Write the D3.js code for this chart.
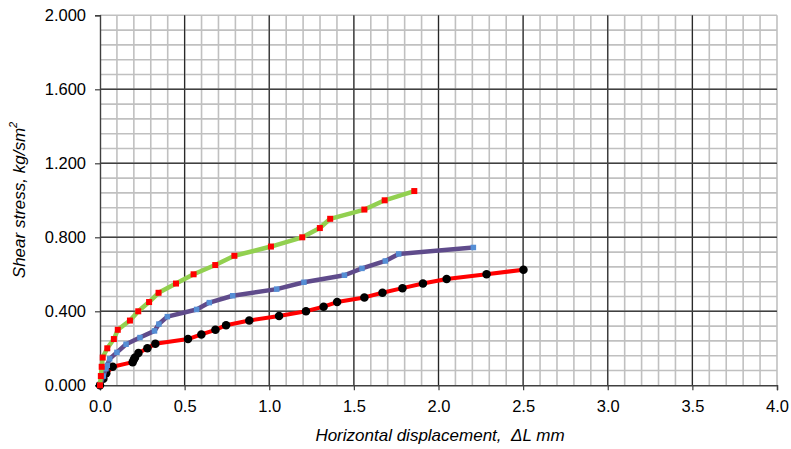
<!DOCTYPE html>
<html lang="en">
<head>
    <meta charset="utf-8">
    <title>Shear stress vs horizontal displacement</title>
    <script src="https://cdn.jsdelivr.net/npm/d3@7"></script>
    <style type="text/css">
        body
        {
            margin: 0;
            background-color: white;
        }
        svg
        {
            display: block;
            font-family: Arial, "Liberation Sans", sans-serif;
        }
        .tick_label
        {
            font-size: 16.5px;
            fill: #000;
        }
        .axis_title
        {
            font-size: 17px;
            font-style: italic;
            white-space: pre;
        }
    </style>
</head>
<body>
    <div id="chart_div"></div>
    <script>
    "use strict";

    // series 1: green line, red square markers
    var s1_x = [0, 0.005, 0.01, 0.016, 0.043, 0.082, 0.105, 0.177, 0.226, 0.29, 0.346, 0.449, 0.553, 0.681, 0.794, 1.01, 1.195, 1.299, 1.36, 1.562, 1.682, 1.857];
    var s1_y = [0, 0.05, 0.1, 0.15, 0.2, 0.25, 0.3, 0.35, 0.4, 0.45, 0.5, 0.55, 0.6, 0.65, 0.7, 0.75, 0.8, 0.85, 0.9, 0.95, 1.0, 1.05];

    // series 2: purple line, blue square markers
    var s2_x = [0, 0.02, 0.035, 0.043, 0.057, 0.1, 0.154, 0.236, 0.322, 0.348, 0.398, 0.571, 0.646, 0.784, 1.044, 1.205, 1.444, 1.548, 1.686, 1.765, 2.206];
    var s2_y = [0, 0.05, 0.09, 0.108, 0.143, 0.178, 0.222, 0.258, 0.294, 0.331, 0.371, 0.41, 0.447, 0.484, 0.52, 0.557, 0.595, 0.632, 0.672, 0.71, 0.745];

    // series 3: red line, black circle markers
    var s3_x = [0, 0.02, 0.037, 0.075, 0.193, 0.2, 0.207, 0.227, 0.28, 0.327, 0.52, 0.599, 0.682, 0.745, 0.882, 1.058, 1.217, 1.321, 1.401, 1.562, 1.669, 1.787, 1.908, 2.048, 2.284, 2.502];
    var s3_y = [0, 0.035, 0.065, 0.1, 0.125, 0.14, 0.15, 0.175, 0.2, 0.225, 0.25, 0.275, 0.3, 0.325, 0.35, 0.375, 0.4, 0.425, 0.45, 0.475, 0.5, 0.525, 0.55, 0.575, 0.6, 0.625];

    var x_ticks = [0, 0.5, 1.0, 1.5, 2.0, 2.5, 3.0, 3.5, 4.0];
    var y_ticks = [0, 0.4, 0.8, 1.2, 1.6, 2.0];

    var svg_width = 791;
    var svg_height = 449;

    var x = d3.scaleLinear().domain([0, 4]).range([100, 777]);
    var y = d3.scaleLinear().domain([0, 2]).range([385.3, 15.3]);

    var svg = d3.select("#chart_div")
        .append("svg")
        .attr("width", svg_width)
        .attr("height", svg_height);

    // minor grid
    var grid = svg.append("g").attr("id", "grid");
    grid.selectAll("line.vminor")
        .data(d3.range(1, 41).map(function(i) { return i / 10; }))
        .enter()
        .append("line")
        .attr("class", "vminor")
        .attr("x1", function(d) { return x(d); })
        .attr("x2", function(d) { return x(d); })
        .attr("y1", y(0))
        .attr("y2", y(2))
        .attr("stroke", "#c0c0c0")
        .attr("stroke-width", 1.6);
    grid.selectAll("line.hminor")
        .data(d3.range(1, 26).map(function(i) { return i * 0.08; }))
        .enter()
        .append("line")
        .attr("class", "hminor")
        .attr("x1", x(0))
        .attr("x2", x(4))
        .attr("y1", function(d) { return y(d); })
        .attr("y2", function(d) { return y(d); })
        .attr("stroke", "#c0c0c0")
        .attr("stroke-width", 1.6);

    // major grid
    grid.selectAll("line.vmajor")
        .data(x_ticks.slice(1, -1))
        .enter()
        .append("line")
        .attr("class", "vmajor")
        .attr("x1", function(d) { return x(d); })
        .attr("x2", function(d) { return x(d); })
        .attr("y1", y(0))
        .attr("y2", y(2))
        .attr("stroke", "#262626")
        .attr("stroke-width", 1.2);
    grid.selectAll("line.hmajor")
        .data(y_ticks.slice(1, -1))
        .enter()
        .append("line")
        .attr("class", "hmajor")
        .attr("x1", x(0))
        .attr("x2", x(4))
        .attr("y1", function(d) { return y(d); })
        .attr("y2", function(d) { return y(d); })
        .attr("stroke", "#404040")
        .attr("stroke-width", 1.4);

    // axes
    var x_axis = d3.axisBottom(x)
        .tickValues(x_ticks)
        .tickSize(5)
        .tickPadding(6)
        .tickFormat(d3.format(".1f"));
    var y_axis = d3.axisLeft(y)
        .tickValues(y_ticks)
        .tickSize(5)
        .tickPadding(9)
        .tickFormat(d3.format(".3f"));

    var gx = svg.append("g")
        .attr("transform", "translate(0," + y(0) + ")")
        .call(x_axis);
    var gy = svg.append("g")
        .attr("transform", "translate(" + x(0) + ",0)")
        .call(y_axis);
    [gx, gy].forEach(function(g)
    {
        g.select(".domain").attr("stroke", "#404040").attr("stroke-width", 1.4);
        g.selectAll(".tick line").attr("stroke", "#404040").attr("stroke-width", 1.2);
        g.selectAll(".tick text")
            .attr("class", "tick_label")
            .attr("font-family", null)
            .attr("font-size", null);
    });
    gx.selectAll(".tick text").attr("dy", "0.95em");

    // series
    function draw_series(xs, ys, line_color, line_width, marker, marker_color, marker_size)
    {
        var pts = xs.map(function(d, i) { return [d, ys[i]]; });
        var line = d3.line()
            .x(function(d) { return x(d[0]); })
            .y(function(d) { return y(d[1]); });
        svg.append("path")
            .datum(pts)
            .attr("d", line)
            .attr("fill", "none")
            .attr("stroke", line_color)
            .attr("stroke-width", line_width)
            .attr("stroke-linejoin", "round");
        if(marker == "circle")
        {
            svg.append("g").selectAll("circle")
                .data(pts)
                .enter()
                .append("circle")
                .attr("cx", function(d) { return x(d[0]); })
                .attr("cy", function(d) { return y(d[1]); })
                .attr("r", marker_size / 2)
                .attr("fill", marker_color);
        }
        else
        {
            svg.append("g").selectAll("rect")
                .data(pts)
                .enter()
                .append("rect")
                .attr("x", function(d) { return x(d[0]) - marker_size / 2; })
                .attr("y", function(d) { return y(d[1]) - marker_size / 2; })
                .attr("width", marker_size)
                .attr("height", marker_size)
                .attr("fill", marker_color);
        }
    }

    draw_series(s3_x, s3_y, "#ff0000", 4, "circle", "#000000", 8.5);
    draw_series(s2_x, s2_y, "#5f4b8b", 4.5, "square", "#558ed5", 5.5);
    draw_series(s1_x, s1_y, "#92d050", 4.5, "square", "#ff0000", 6);

    // titles
    svg.append("text")
        .attr("class", "axis_title")
        .attr("x", 440)
        .attr("y", 441)
        .attr("text-anchor", "middle")
        .text("Horizontal displacement,  \u0394L mm");

    var yt = svg.append("text")
        .attr("class", "axis_title")
        .attr("transform", "translate(25,200) rotate(-90)")
        .attr("text-anchor", "middle");
    yt.append("tspan").text("Shear stress, kg/sm");
    yt.append("tspan").attr("font-size", "11px").attr("dy", "-0.7em").text("2");
    </script>
</body>
</html>
